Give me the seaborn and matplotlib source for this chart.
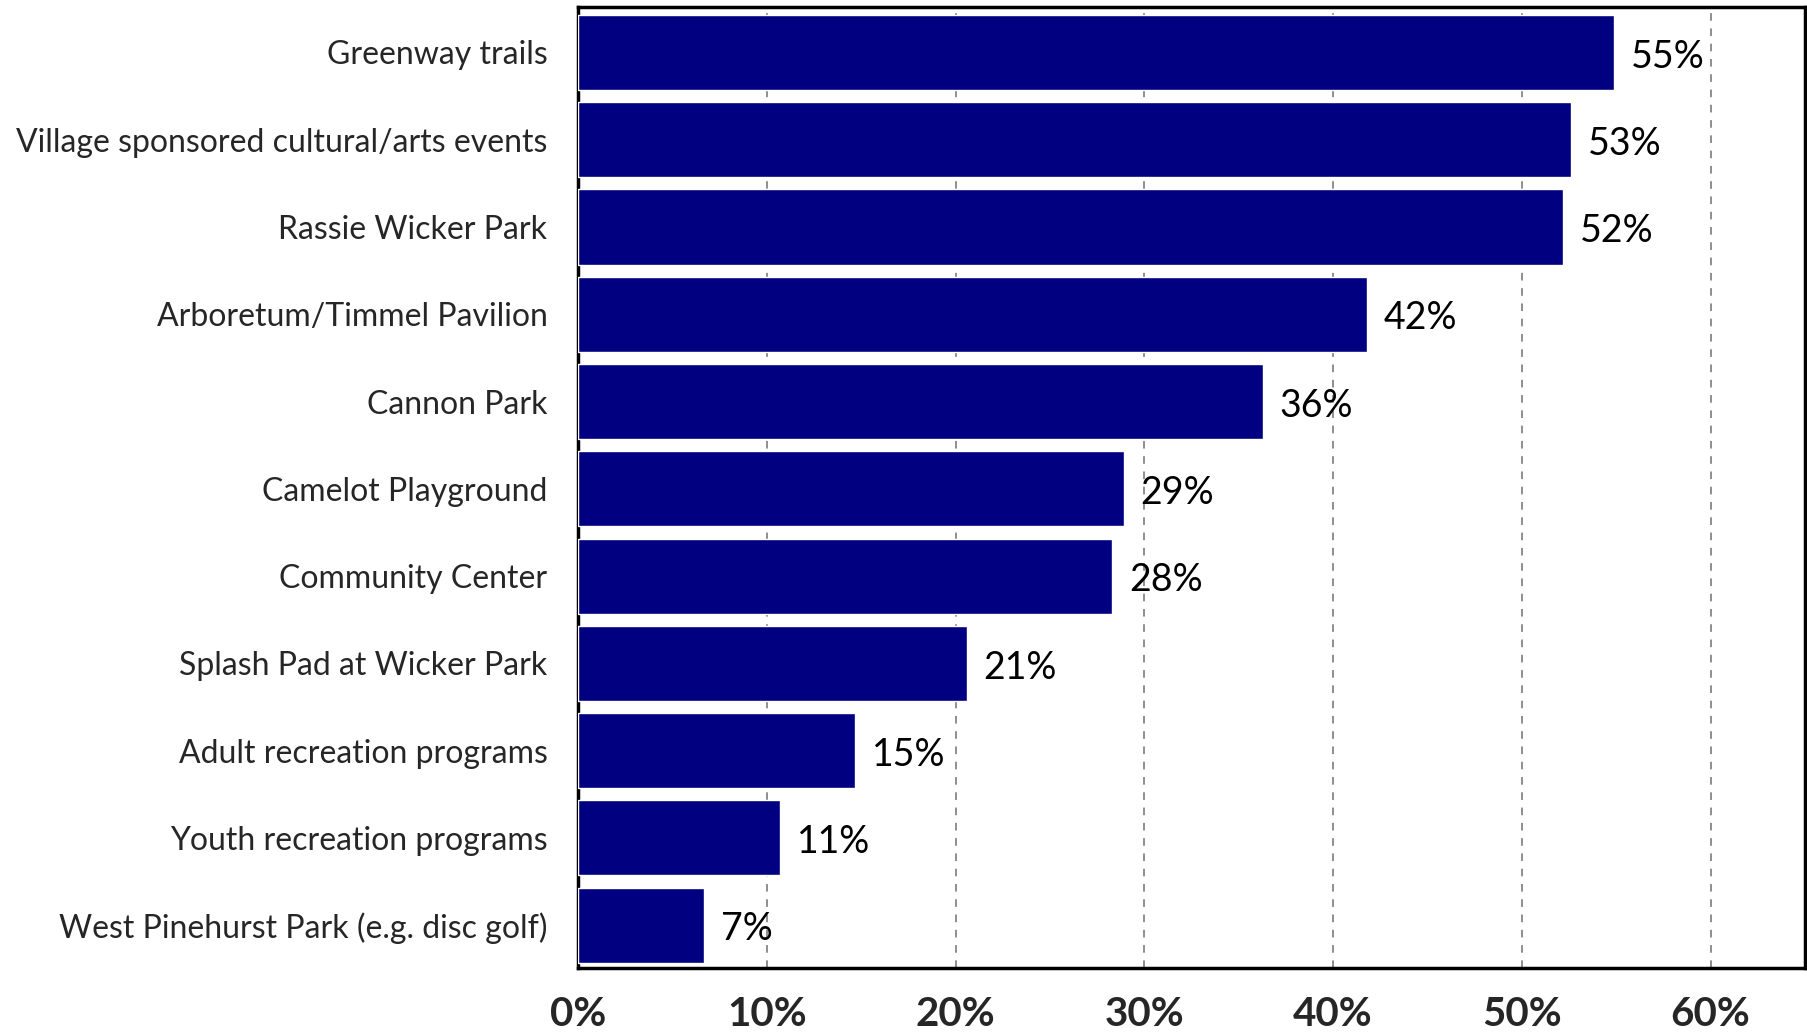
import matplotlib
matplotlib.use("Agg")
import matplotlib.pyplot as plt
import seaborn as sns
import pandas as pd

categories = [
    "Greenway trails",
    "Village sponsored cultural/arts events",
    "Rassie Wicker Park",
    "Arboretum/Timmel Pavilion",
    "Cannon Park",
    "Camelot Playground",
    "Community Center",
    "Splash Pad at Wicker Park",
    "Adult recreation programs",
    "Youth recreation programs",
    "West Pinehurst Park (e.g. disc golf)",
]
shares = [54.9, 52.6, 52.2, 41.8, 36.3, 28.9, 28.3, 20.6, 14.7, 10.7, 6.7]
tick_values = [0, 10, 20, 30, 40, 50, 60]
tick_labels = ["0%", "10%", "20%", "30%", "40%", "50%", "60%"]

df = pd.DataFrame({"facility": categories, "share": shares})

sns.set_theme(style="white")
plt.rcParams["font.family"] = ["Lato", "DejaVu Sans"]

fig = plt.figure(figsize=(18.08, 10.32), dpi=100)
ax = fig.add_axes([0.3197, 0.062, 0.6786, 0.9312])

sns.barplot(data=df, x="share", y="facility", orient="h", color="#000080",
            saturation=1, width=0.86, ax=ax, zorder=3)

ax.set_xlim(0, 65)
ax.set_ylim(10.49, -0.52)
ax.set_xticks(tick_values)
ax.set_xticklabels(tick_labels, fontsize=29, fontweight="bold")
ax.tick_params(axis="x", length=0, pad=20)
ax.tick_params(axis="y", length=0, pad=22, labelsize=23)
ax.set_xlabel("")
ax.set_ylabel("")

for x in tick_values[1:]:
    ax.axvline(x, color="#707070", lw=1.1, ls=(0, (5, 5)), zorder=1)

for spine in ax.spines.values():
    spine.set_visible(True)
    spine.set_color("black")
    spine.set_linewidth(2.5)

for i, v in enumerate(shares):
    ax.annotate(f"{v:.0f}%", xy=(v, i), xytext=(12, -3), textcoords="offset points",
                va="center", ha="left", fontsize=27, color="black", zorder=4)

fig.savefig("out.png", dpi=100, facecolor="white")
